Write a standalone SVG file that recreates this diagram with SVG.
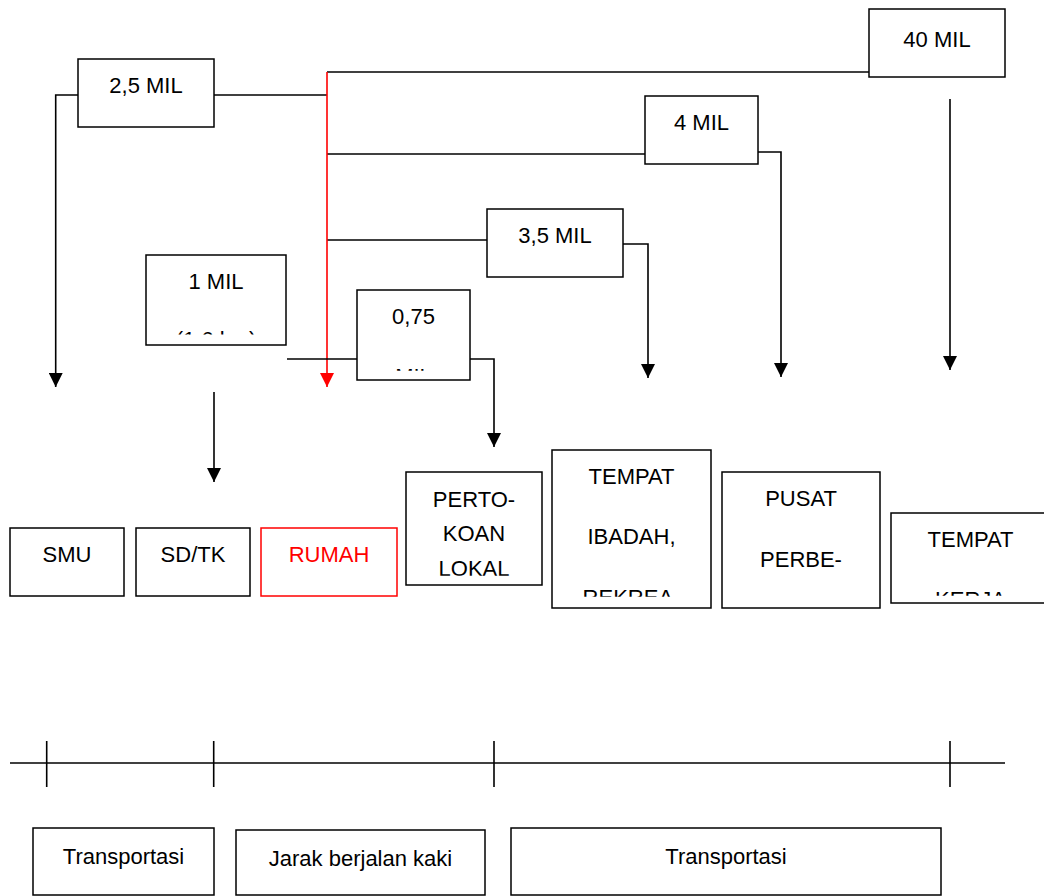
<svg xmlns="http://www.w3.org/2000/svg" width="1044" height="896" viewBox="0 0 1044 896">
<style>
.box{fill:#fff;stroke:#000;stroke-width:1.5}
.rbox{fill:#fff;stroke:#ff0000;stroke-width:1.5}
.t{font-family:"Liberation Sans",Arial,sans-serif;font-size:22px;fill:#000;text-anchor:middle}
.rt{font-family:"Liberation Sans",Arial,sans-serif;font-size:22px;fill:#ff0000;text-anchor:middle}
.ln{fill:none;stroke:#000;stroke-width:1.6}
.rln{fill:none;stroke:#ff0000;stroke-width:1.6}
</style>
<defs>
<marker id="ah" markerUnits="userSpaceOnUse" markerWidth="14" markerHeight="14" refX="14" refY="7" orient="auto" viewBox="0 0 14 14"><path d="M0,0 L14,7 L0,14 z" fill="#000"/></marker>
<marker id="rah" markerUnits="userSpaceOnUse" markerWidth="14" markerHeight="14" refX="14" refY="7" orient="auto" viewBox="0 0 14 14"><path d="M0,0 L14,7 L0,14 z" fill="#ff0000"/></marker>
<clipPath id="c1mil"><rect x="146" y="255" width="140" height="79.5"/></clipPath>
<clipPath id="c075"><rect x="357" y="290" width="113" height="80.7"/></clipPath>
<clipPath id="cpert"><rect x="406" y="472" width="136" height="103.7"/></clipPath>
<clipPath id="cibadah"><rect x="552" y="450" width="159" height="146.7"/></clipPath>
<clipPath id="ckerja"><rect x="891" y="513" width="160" height="82.7"/></clipPath>
</defs>

<g id="connectors">
<path class="ln" d="M78,95 H55.7 V387" marker-end="url(#ah)"/>
<path class="ln" d="M214,95 H327"/>
<path class="ln" d="M327,72 H869"/>
<path class="ln" d="M327,154 H645"/>
<path class="ln" d="M327,240 H487"/>
<path class="rln" d="M327,72 V387" marker-end="url(#rah)"/>
<path class="ln" d="M758,152 H781 V377" marker-end="url(#ah)"/>
<path class="ln" d="M623,244 H648 V378" marker-end="url(#ah)"/>
<path class="ln" d="M950,99 V370" marker-end="url(#ah)"/>
<path class="ln" d="M287,359 H357"/>
<path class="ln" d="M470,359 H494 V447" marker-end="url(#ah)"/>
<path class="ln" d="M214,392 V482" marker-end="url(#ah)"/>
</g>

<g id="n-40mil"><rect class="box" x="869" y="9" width="136" height="68"/><text class="t" x="937" y="47">40 MIL</text></g>
<g id="n-25mil"><rect class="box" x="78" y="59" width="136" height="68"/><text class="t" x="146" y="93">2,5 MIL</text></g>
<g id="n-4mil"><rect class="box" x="645" y="96" width="113" height="68"/><text class="t" x="701.5" y="130">4 MIL</text></g>
<g id="n-35mil"><rect class="box" x="487" y="209" width="136" height="68"/><text class="t" x="555" y="243">3,5 MIL</text></g>
<g id="n-1mil"><rect class="box" x="146" y="255" width="140" height="90"/><text class="t" x="216" y="289">1 MIL</text><text class="t" x="216" y="347" clip-path="url(#c1mil)">(1,6 km)</text></g>
<g id="n-075mil"><rect class="box" x="357" y="290" width="113" height="90"/><text class="t" x="413.5" y="323.5">0,75</text><text class="t" x="413.5" y="384" clip-path="url(#c075)">MIL</text></g>

<g id="n-smu"><rect class="box" x="10" y="528" width="114" height="68"/><text class="t" x="67" y="562">SMU</text></g>
<g id="n-sdtk"><rect class="box" x="136" y="528" width="114" height="68"/><text class="t" x="193" y="562">SD/TK</text></g>
<g id="n-rumah"><rect class="rbox" x="261" y="528" width="136" height="68"/><text class="rt" x="329" y="562">RUMAH</text></g>
<g id="n-pertokoan"><rect class="box" x="406" y="472" width="136" height="113"/><text class="t" x="474" y="507">PERTO-</text><text class="t" x="474" y="541">KOAN</text><text class="t" x="474" y="576" clip-path="url(#cpert)">LOKAL</text></g>
<g id="n-ibadah"><rect class="box" x="552" y="450" width="159" height="158"/><text class="t" x="631.5" y="483.5">TEMPAT</text><text class="t" x="631.5" y="544">IBADAH,</text><text class="t" x="631.5" y="605" clip-path="url(#cibadah)">REKREA-</text></g>
<g id="n-pusat"><rect class="box" x="722" y="472" width="158" height="136"/><text class="t" x="801" y="506">PUSAT</text><text class="t" x="801" y="567">PERBE-</text></g>
<g id="n-kerja"><rect class="box" x="891" y="513" width="160" height="90"/><text class="t" x="970.5" y="547">TEMPAT</text><text class="t" x="970.5" y="607" clip-path="url(#ckerja)">KERJA</text></g>

<g id="scale">
<path class="ln" d="M10,763 H1005"/>
<path class="ln" d="M46.7,741 V787 M213.7,741 V787 M494,741 V787 M950,741 V787"/>
</g>

<g id="n-transport1"><rect class="box" x="33" y="828" width="181" height="67"/><text class="t" x="123.5" y="863.5">Transportasi</text></g>
<g id="n-jarak"><rect class="box" x="236" y="830" width="249" height="65"/><text class="t" x="360.5" y="866">Jarak berjalan kaki</text></g>
<g id="n-transport2"><rect class="box" x="511" y="828" width="430" height="67"/><text class="t" x="726" y="863.5">Transportasi</text></g>
</svg>
